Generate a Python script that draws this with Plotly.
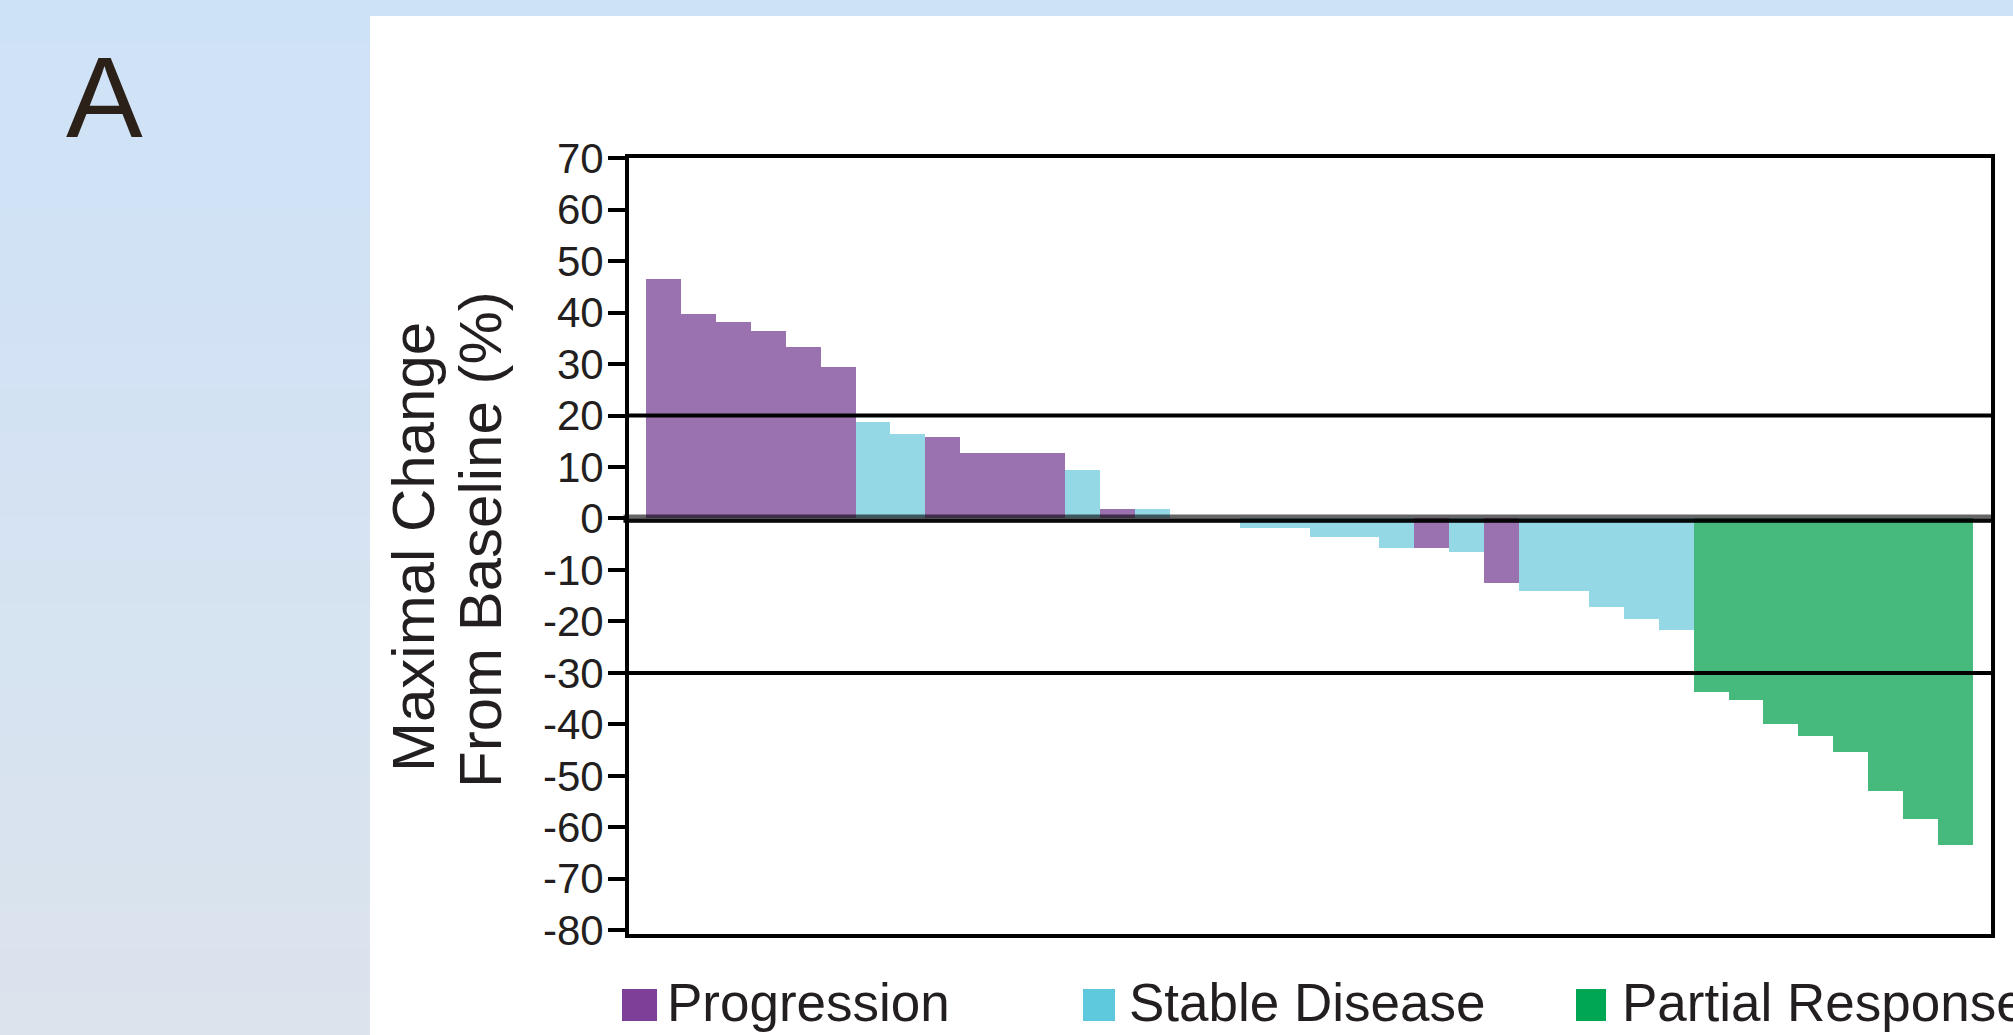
import plotly.graph_objects as go

# ---------------- data ----------------
patient_idx = list(range(38))
max_change = [46.5, 39.7, 38.2, 36.5, 33.4, 29.5, 18.7, 16.4, 15.8, 12.7,
              12.7, 12.7, 9.5, 1.9, 1.9, 0.0, 0.0, -1.9, -1.9, -3.5,
              -3.5, -5.8, -5.8, -6.6, -12.6, -14.1, -14.1, -17.1, -19.5, -21.7,
              -33.7, -35.3, -39.9, -42.2, -45.3, -52.9, -58.3, -63.5]
P, S, R = "Progression", "Stable Disease", "Partial Response"
response = [P, P, P, P, P, P, S, S, P, P,
            P, P, S, P, S, S, S, S, S, S,
            S, S, P, S, P, S, S, S, S, S,
            R, R, R, R, R, R, R, R]
categories = [P, S, R]
tick_vals = [70, 60, 50, 40, 30, 20, 10, 0, -10, -20, -30, -40, -50, -60, -70, -80]
tick_text = ["70", "60", "50", "40", "30", "20", "10", "0", "-10", "-20", "-30",
             "-40", "-50", "-60", "-70", "-80"]
ref_lines = [20, -30]
y_title_lines = ["Maximal Change", "From Baseline (%)"]
panel_label = "A"

# ---------------- style ----------------
bar_colors = {P: "#9B72B0", S: "#95D8E5", R: "#46BA7D"}
legend_colors = {P: "#7E3F98", S: "#5EC8DC", R: "#00A651"}
TEXT = "#231F20"
FONT = "Liberation Sans, Arial, sans-serif"

W, H = 2013, 1035
PL, PR, PT, PB = 629, 1991, 158, 934


def fx(px):
    return (px - PL) / (PR - PL)


def fy(py):
    return (PB - py) / (PB - PT)


fig = go.Figure()
for cat in categories:
    xs = [i for i, c in zip(patient_idx, response) if c == cat]
    ys = [v for v, c in zip(max_change, response) if c == cat]
    fig.add_trace(go.Bar(x=xs, y=ys, name=cat, width=1.0,
                         marker=dict(color=bar_colors[cat], line=dict(width=0)),
                         showlegend=False, hoverinfo="x+y"))

shapes = []
# background: white panel over light-blue gradient
n_bands = 24
c0 = (206, 226, 247)
c1 = (219, 227, 237)
for k in range(n_bands):
    t = k / (n_bands - 1)
    col = "rgb(%d,%d,%d)" % tuple(round(a + (b - a) * t) for a, b in zip(c0, c1))
    shapes.append(dict(type="rect", xref="paper", yref="paper", layer="below",
                       x0=fx(-2), x1=fx(W + 2), y0=fy(k * H / n_bands - (2 if k == 0 else 0)),
                       y1=fy((k + 1) * H / n_bands + 1),
                       fillcolor=col, line=dict(width=0)))
shapes.append(dict(type="rect", xref="paper", yref="paper", layer="below",
                   x0=fx(370), x1=fx(W + 5), y0=fy(16), y1=fy(H + 5),
                   fillcolor="white", line=dict(width=0)))
# reference lines
for v in ref_lines:
    shapes.append(dict(type="line", xref="paper", yref="y", x0=0, x1=1, y0=v, y1=v,
                       layer="above", line=dict(color="black", width=4)))
# zero band
shapes.append(dict(type="line", xref="paper", yref="y", x0=-0.004, x1=1, y0=0, y1=0,
                   layer="above", line=dict(color="rgba(0,0,0,0.6)", width=8)))
shapes.append(dict(type="line", xref="paper", yref="y", x0=-0.004, x1=1, y0=-0.45, y1=-0.45,
                   layer="above", line=dict(color="rgba(0,0,0,0.9)", width=4)))

annotations = []
# legend (manual, to get large swatches)
legend_items = [(P, 622, 657, 665), (S, 1083, 1115, 1127), (R, 1576, 1606, 1620)]
for cat, sx0, sx1, tx in legend_items:
    shapes.append(dict(type="rect", xref="paper", yref="paper", layer="above",
                       x0=fx(sx0), x1=fx(sx1), y0=fy(1021), y1=fy(989),
                       fillcolor=legend_colors[cat], line=dict(width=0)))
    annotations.append(dict(text=cat, xref="paper", yref="paper", x=fx(tx), y=fy(1003),
                            xanchor="left", yanchor="middle", showarrow=False,
                            font=dict(family=FONT, size=53, color=TEXT)))
# y-axis title (two lines)
for line, cx, cy in zip(y_title_lines, [413, 480], [547, 540]):
    annotations.append(dict(text=line, xref="paper", yref="paper", x=fx(cx), y=fy(cy),
                            xanchor="center", yanchor="middle", textangle=-90, showarrow=False,
                            font=dict(family=FONT, size=60, color=TEXT)))
# panel label
annotations.append(dict(text=panel_label, xref="paper", yref="paper", x=fx(104), y=fy(97),
                        xanchor="center", yanchor="middle", showarrow=False,
                        font=dict(family=FONT, size=115, color="#2B2118")))

fig.update_layout(
    width=W, height=H,
    margin=dict(l=PL, r=W - PR, t=PT, b=H - PB, pad=0),
    paper_bgcolor="rgb(211,226,243)",
    plot_bgcolor="rgba(0,0,0,0)",
    barmode="overlay", bargap=0,
    shapes=shapes, annotations=annotations,
    showlegend=False,
    xaxis=dict(range=[-0.987, 38.015], showticklabels=False, ticks="", showgrid=False,
               zeroline=False, showline=True, mirror=True, linecolor="black", linewidth=4),
    yaxis=dict(range=[-80.73, 70.04], tickvals=tick_vals, ticktext=tick_text,
               ticks="outside", ticklen=17, tickwidth=3.5, tickcolor="black",
               ticklabelstandoff=-4,
               tickfont=dict(family=FONT, size=42, color=TEXT),
               showgrid=False, zeroline=False, showline=True, mirror=True,
               linecolor="black", linewidth=4),
)

fig.write_html("out.html", config={"displayModeBar": False},
               post_script="document.body.style.margin='0';document.body.style.overflow='hidden';")
